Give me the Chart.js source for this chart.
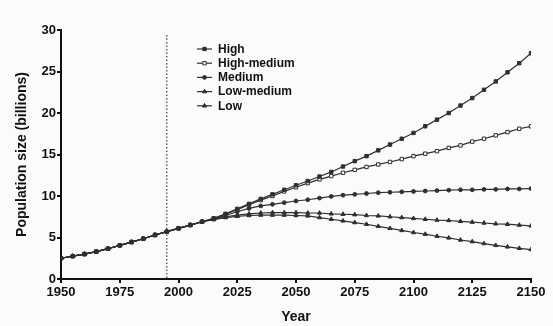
<!DOCTYPE html>
<html>
<head>
<meta charset="utf-8">
<script src="https://cdn.jsdelivr.net/npm/chart.js@4.4.1/dist/chart.umd.min.js"></script>
<style>
  html, body { margin: 0; padding: 0; background: #fbfbfb; }
  #wrap { width: 553px; height: 326px; }
</style>
</head>
<body>
<div id="wrap"><canvas id="popChart"></canvas></div>
<script>
// Years, every 5 years
const years = [];
for (let y = 1950; y <= 2150; y += 5) years.push(y);

// 1950-2010 shared history
const history = [2.5, 2.75, 3.0, 3.3, 3.65, 4.05, 4.45, 4.85, 5.3, 5.7, 6.1, 6.5, 6.9];

// Projections 2015-2150
const highProj = [7.3, 7.85, 8.45, 9.05, 9.65, 10.2, 10.75, 11.3, 11.8, 12.35, 12.9, 13.55, 14.2, 14.8,
  15.5, 16.2, 16.9, 17.6, 18.4, 19.2, 20.0, 20.9, 21.8, 22.8, 23.8, 24.9, 26.0, 27.2];
const highMedProj = [7.3, 7.8, 8.35, 8.95, 9.5, 10.0, 10.55, 11.05, 11.55, 12.0, 12.4, 12.8, 13.15, 13.5,
  13.8, 14.1, 14.45, 14.8, 15.1, 15.4, 15.8, 16.1, 16.55, 16.9, 17.3, 17.7, 18.1, 18.4];
const mediumProj = [7.25, 7.65, 8.1, 8.5, 8.8, 9.0, 9.2, 9.4, 9.55, 9.75, 9.95, 10.1, 10.2, 10.3,
  10.4, 10.45, 10.5, 10.55, 10.6, 10.65, 10.7, 10.75, 10.75, 10.8, 10.8, 10.85, 10.85, 10.9];
const lowMedProj = [7.2, 7.5, 7.7, 7.85, 7.95, 8.0, 8.0, 8.0, 7.95, 7.95, 7.85, 7.8, 7.75, 7.65,
  7.6, 7.5, 7.4, 7.3, 7.2, 7.1, 7.05, 6.95, 6.85, 6.75, 6.65, 6.6, 6.5, 6.4];
const lowProj = [7.15, 7.4, 7.55, 7.65, 7.7, 7.7, 7.7, 7.65, 7.6, 7.4, 7.2, 7.0, 6.8, 6.6,
  6.35, 6.1, 5.85, 5.6, 5.4, 5.15, 4.95, 4.7, 4.5, 4.27, 4.05, 3.87, 3.7, 3.55];

const seriesNames = ['High', 'High-medium', 'Medium', 'Low-medium', 'Low'];
const xTicks = [1950, 1975, 2000, 2025, 2050, 2075, 2100, 2125, 2150];
const yTicks = [0, 5, 10, 15, 20, 25, 30];
const markerYear = 1995;

const ink = '#2f2f2f';
const styles = [
  { pointStyle: 'rect', fill: ink, r: 2.4 },
  { pointStyle: 'rect', fill: '#ffffff', r: 2.4 },
  { pointStyle: 'circle', fill: ink, r: 1.9 },
  { pointStyle: 'triangle', fill: ink, r: 2.4 },
  { pointStyle: 'triangle', fill: ink, r: 2.4 },
];

function toPoints(proj) {
  return history.concat(proj).map((v, i) => ({ x: years[i], y: v }));
}
const allSeries = [highProj, highMedProj, mediumProj, lowMedProj, lowProj];

const datasets = allSeries.map((proj, i) => ({
  label: seriesNames[i],
  data: toPoints(proj),
  borderColor: ink,
  borderWidth: 1.2,
  pointStyle: styles[i].pointStyle,
  pointRadius: styles[i].r,
  pointBackgroundColor: styles[i].fill,
  pointBorderColor: ink,
  pointBorderWidth: 1,
  tension: 0,
  fill: false,
}));

// dotted marker line at 1995
const dottedLine = {
  id: 'dottedLine',
  beforeDatasetsDraw(chart) {
    const ctx = chart.ctx;
    const x = chart.scales.x.getPixelForValue(markerYear);
    ctx.save();
    ctx.strokeStyle = '#666';
    ctx.lineWidth = 1.5;
    ctx.setLineDash([1.5, 2]);
    ctx.beginPath();
    ctx.moveTo(x, chart.chartArea.top + 5);
    ctx.lineTo(x, chart.chartArea.bottom);
    ctx.stroke();
    ctx.restore();
  }
};

// legend inside plot
const innerLegend = {
  id: 'innerLegend',
  afterDraw(chart) {
    const ctx = chart.ctx;
    ctx.save();
    ctx.font = 'bold 12px "Liberation Sans", Arial, sans-serif';
    ctx.textBaseline = 'middle';
    seriesNames.forEach((name, i) => {
      const y = 49 + i * 14.2;
      ctx.strokeStyle = ink;
      ctx.lineWidth = 1.2;
      ctx.beginPath();
      ctx.moveTo(197, y);
      ctx.lineTo(212, y);
      ctx.stroke();
      ctx.lineWidth = 1;
      ctx.fillStyle = styles[i].fill;
      Chart.helpers.drawPoint(ctx, {
        pointStyle: styles[i].pointStyle,
        radius: styles[i].r,
        rotation: 0,
        borderWidth: 1
      }, 204.5, y);
      ctx.fillStyle = '#111';
      ctx.fillText(name, 218, y + 0.5);
    });
    ctx.restore();
  }
};

const tickFont = { family: '"Liberation Sans", Arial, sans-serif', size: 13, weight: 'bold' };
const titleFont = { family: '"Liberation Sans", Arial, sans-serif', size: 14, weight: 'bold' };

new Chart(document.getElementById('popChart'), {
  type: 'line',
  data: { datasets: datasets },
  options: {
    responsive: true,
    maintainAspectRatio: false,
    animation: false,
    layout: { padding: { left: 0, right: 22, top: 30, bottom: 0 } },
    plugins: {
      legend: { display: false },
      tooltip: { enabled: false }
    },
    scales: {
      x: {
        type: 'linear',
        min: 1950,
        max: 2150,
        afterBuildTicks: (scale) => { scale.ticks = xTicks.map(v => ({ value: v })); },
        afterFit: (scale) => { scale.height = 47; },
        ticks: { color: '#111', font: tickFont, padding: 2, maxRotation: 0,
          callback: (v) => String(v) },
        grid: { drawOnChartArea: false, drawTicks: true, tickLength: 4, color: '#111', lineWidth: 2 },
        border: { display: true, color: '#111', width: 2 },
        title: { display: true, text: 'Year', color: '#111', font: titleFont, padding: { top: 0, bottom: 0 } }
      },
      y: {
        min: 0,
        max: 30,
        afterBuildTicks: (scale) => { scale.ticks = yTicks.map(v => ({ value: v })); },
        afterFit: (scale) => { scale.width = 61; },
        ticks: { color: '#111', font: tickFont, padding: 1 },
        grid: { drawOnChartArea: false, drawTicks: true, tickLength: 4, color: '#111', lineWidth: 2 },
        border: { display: true, color: '#111', width: 2 },
        title: { display: true, text: 'Population size (billions)', color: '#111', font: titleFont, padding: { top: 14, bottom: 0 } }
      }
    }
  },
  plugins: [dottedLine, innerLegend]
});
</script>
</body>
</html>
